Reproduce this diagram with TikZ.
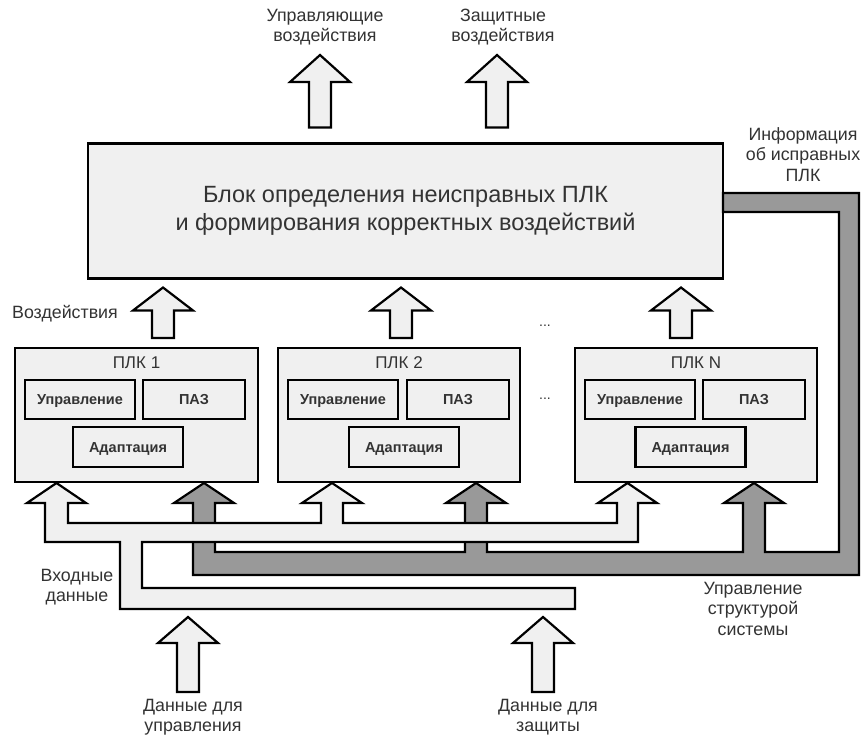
\documentclass[tikz,border=0pt]{standalone}
\usepackage{fontspec}
\setmainfont{Liberation Sans}
\usetikzlibrary{calc}
\definecolor{lightf}{gray}{0.94}
\definecolor{darkf}{gray}{0.6}
\definecolor{txt}{gray}{0.2}
\newcommand\blockarrow[4]{%
  \draw[blk, fill=#4] let \p1=(#1), \p2=(#2) in
   (\x1-11pt,\y1) -- (\x1-11pt,\y2-#3pt) -- (\x1-30pt,\y2-#3pt) -- (\x1,\y2)
   -- (\x1+30pt,\y2-#3pt) -- (\x1+11pt,\y2-#3pt) -- (\x1+11pt,\y1) -- cycle;}
\begin{document}
\begin{tikzpicture}[x=1pt,y=-1pt,
  box/.style={draw=black, fill=lightf, line width=2.2pt, inner sep=0pt, outer sep=0pt},
  lbl/.style={text=txt, font=\fontsize{17.8}{20.5}\selectfont, align=center, inner sep=0pt},
  title/.style={text=txt, font=\fontsize{17}{20.5}\selectfont, inner sep=0pt},
  inbox/.style={box, text=txt, font=\bfseries\fontsize{14.5}{17}\selectfont,
                text height=10.5pt, text depth=0pt},
  dotsl/.style={text=txt, font=\fontsize{14}{15}\selectfont, inner sep=0pt},
  blk/.style={draw=black, line width=2.2pt, line join=miter}]
\fill[white] (0,0) rectangle (865,737);
\useasboundingbox (0,0) rectangle (865,737);

% main block
\node[box, minimum width=635pt, minimum height=135pt, align=center, text=txt,
      font=\fontsize{23.5}{28}\selectfont] (main) at (405.5,211)
  {Блок определения неисправных ПЛК\\и формирования корректных воздействий};

% PLC boxes
\node[box, minimum width=243pt, minimum height=134pt] (plk1) at (136.5,415) {};
\node[box, minimum width=242pt, minimum height=134pt] (plk2) at (399,415) {};
\node[box, minimum width=242pt, minimum height=134pt] (plkn) at (696,415) {};
\node[title] (t1) at (136.5,363) {ПЛК 1};
\node[title] (t2) at (399,363) {ПЛК 2};
\node[title] (tn) at (696,363) {ПЛК N};

\node[inbox, minimum width=110pt, minimum height=39pt] (u1) at (80,399.5) {Управление};
\node[inbox, minimum width=102pt, minimum height=39pt] (p1) at (194,399.5) {ПАЗ};
\node[inbox, minimum width=110pt, minimum height=40pt] (d1) at (128,447) {Адаптация};
\node[inbox, minimum width=110pt, minimum height=39pt] (u2) at (343,399.5) {Управление};
\node[inbox, minimum width=102pt, minimum height=39pt] (p2) at (458,399.5) {ПАЗ};
\node[inbox, minimum width=110pt, minimum height=40pt] (d2) at (404,447) {Адаптация};
\node[inbox, minimum width=110pt, minimum height=39pt] (un) at (640,399.5) {Управление};
\node[inbox, minimum width=102pt, minimum height=39pt] (pn) at (754,399.5) {ПАЗ};
\node[inbox, minimum width=110pt, minimum height=40pt] (dn) at (690.5,447) {Адаптация};

% gray bus (structure control / information about healthy PLCs)
\draw[blk, fill=darkf] (723,193) -- (859,193) -- (859,575) -- (193,575) -- (193,503)
  -- (174,503) -- (204,483) -- (234,503) -- (215,503) -- (215,552)
  -- (465,552) -- (465,503) -- (446,503) -- (476,483) -- (506,503) -- (487,503) -- (487,552)
  -- (743,552) -- (743,503) -- (724,503) -- (754,483) -- (784,503) -- (765,503) -- (765,552)
  -- (839,552) -- (839,212) -- (723,212) -- cycle;

% light bus (input data)
\draw[blk, fill=lightf] (45,542) -- (45,503) -- (27,503) -- (56.5,483) -- (86,503) -- (68,503)
  -- (68,523) -- (321,523) -- (321,503) -- (302,503) -- (332,483) -- (362,503) -- (343,503)
  -- (343,523) -- (617,523) -- (617,503) -- (598,503) -- (627.5,483) -- (657,503) -- (638,503)
  -- (638,542) -- (142,542) -- (142,588) -- (575,588) -- (575,609) -- (120,609) -- (120,542) -- cycle;

% arrows PLC -> main block
\coordinate (a1) at ($(plk1.north)+(26.5,-10)$);
\coordinate (a1t) at ($(a1 |- main.south)+(0,9)$);
\coordinate (a2) at ($(plk2.north)+(2,-10)$);
\coordinate (a2t) at ($(a2 |- main.south)+(0,9)$);
\coordinate (an) at ($(plkn.north)+(-15,-10)$);
\coordinate (ant) at ($(an |- main.south)+(0,9)$);
\blockarrow{a1}{a1t}{23}{lightf}
\blockarrow{a2}{a2t}{23}{lightf}
\blockarrow{an}{ant}{23}{lightf}

% output arrows
\coordinate (o1) at ($(main.north)+(-85.5,-16)$);
\coordinate (o1t) at (o1 |- 0,55);
\coordinate (o2) at ($(main.north)+(91.5,-16)$);
\coordinate (o2t) at (o2 |- 0,55);
\blockarrow{o1}{o1t}{27}{lightf}
\blockarrow{o2}{o2t}{27}{lightf}

% input arrows
\coordinate (i1) at (188,692);
\coordinate (i1t) at (188,617);
\coordinate (i2) at (543,692);
\coordinate (i2t) at (543,617);
\blockarrow{i1}{i1t}{26}{lightf}
\blockarrow{i2}{i2t}{26}{lightf}

% labels
\node[lbl] (l1) at (325,27) {Управляющие\\воздействия};
\node[lbl] (l2) at (503,27) {Защитные\\воздействия};
\node[lbl] (l3) at (803,154.5) {Информация\\об исправных\\ПЛК};
\node[lbl] (l4) at (65,314) {Воздействия};
\node[lbl] (l5) at (77,587) {Входные\\данные};
\node[lbl] (l6) at (753,608.5) {Управление\\структурой\\системы};
\node[lbl] (l7) at (193,717) {Данные для\\управления};
\node[lbl] (l8) at (548,717) {Данные для\\защиты};
\node[dotsl] (dots1) at (545,326) {...};
\node[dotsl] (dots2) at (545,399) {...};
\end{tikzpicture}
\end{document}
